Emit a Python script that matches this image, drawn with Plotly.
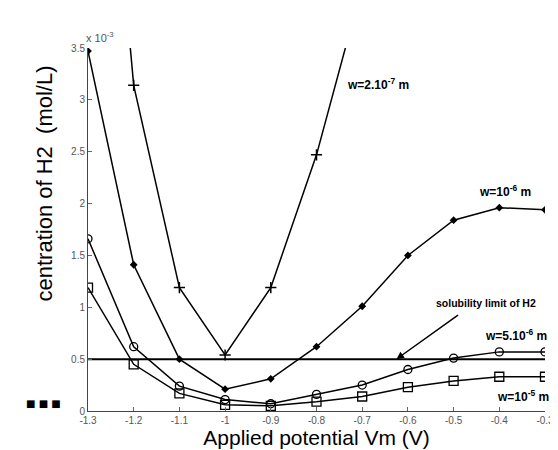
import plotly.graph_objects as go

potential = [-1.3, -1.2, -1.1, -1.0, -0.9, -0.8, -0.7, -0.6, -0.5, -0.4, -0.3]

# concentrations in units of 1e-3 mol/L
w_2e7 = [8.0, 3.14, 1.19, 0.54, 1.19, 2.47, 4.1]          # + markers (first 7 points)
w_1e6 = [3.47, 1.41, 0.50, 0.21, 0.31, 0.62, 1.01, 1.50, 1.84, 1.96, 1.94]  # filled dots
w_5e6 = [1.66, 0.62, 0.24, 0.11, 0.07, 0.16, 0.25, 0.40, 0.51, 0.57, 0.57]  # open circles
w_1e5 = [1.19, 0.45, 0.17, 0.06, 0.05, 0.09, 0.14, 0.23, 0.29, 0.33, 0.33]  # open squares
solubility_x = [-1.3, -0.3]
solubility_y = [0.5, 0.5]

x_ticks = [-1.3, -1.2, -1.1, -1.0, -0.9, -0.8, -0.7, -0.6, -0.5, -0.4, -0.3]
x_ticklabels = ["-1.3", "-1.2", "-1.1", "-1", "-0.9", "-0.8", "-0.7", "-0.6", "-0.5", "-0.4", "-0.3"]
y_ticks = [0, 0.5, 1, 1.5, 2, 2.5, 3, 3.5]
y_ticklabels = ["0", "0.5", "1", "1.5", "2", "2.5", "3", "3.5"]

fig = go.Figure()

line = dict(color="black", width=1.5)
fig.add_trace(go.Scatter(x=potential[:len(w_2e7)], y=w_2e7, mode="lines+markers", line=line,
                         marker=dict(symbol="cross-thin", size=8, line=dict(color="black", width=1.5)),
                         cliponaxis=True))
fig.add_trace(go.Scatter(x=potential, y=w_1e6, mode="lines+markers", line=line,
                         marker=dict(symbol="diamond", size=6, color="black"), cliponaxis=True))
fig.add_trace(go.Scatter(x=potential, y=w_5e6, mode="lines+markers", line=line,
                         marker=dict(symbol="circle-open", size=8, color="black", line=dict(width=1.3)),
                         cliponaxis=True))
fig.add_trace(go.Scatter(x=potential, y=w_1e5, mode="lines+markers", line=line,
                         marker=dict(symbol="square-open", size=9, color="black", line=dict(width=1.3)),
                         cliponaxis=True))
fig.add_trace(go.Scatter(x=solubility_x, y=solubility_y, mode="lines",
                         line=dict(color="black", width=2)))

lab_font = dict(family="Liberation Sans, Arial", size=12, color="black")
sol_font = dict(family="Liberation Sans, Arial", size=10.5, color="black")
W, H = 558, 450
ml, mr, mt, mb = 80, 16, 40, 47
pw, ph = W - ml - mr, H - mt - mb
def px(xp, yp):
    return (xp - ml) / pw, (H - mb - yp) / ph

xa, ya = px(76, 29)
xt, yt = px(36, 175)
xs, ys = px(35, 395)
annotations = [
    dict(x=-0.737, y=3.15, xref="x", yref="y", text="<b>w=2.10<sup>-7</sup> m</b>", showarrow=False,
         xanchor="left", yanchor="middle", font=lab_font),
    dict(x=-0.449, y=2.12, xref="x", yref="y", text="<b>w=10<sup>-6</sup> m</b>", showarrow=False,
         xanchor="left", yanchor="middle", font=lab_font),
    dict(x=-0.435, y=0.73, xref="x", yref="y", text="<b>w=5.10<sup>-6</sup> m</b>", showarrow=False,
         xanchor="left", yanchor="middle", font=lab_font),
    dict(x=-0.41, y=0.145, xref="x", yref="y", text="<b>w=10<sup>-5</sup> m</b>", showarrow=False,
         xanchor="left", yanchor="middle", font=lab_font),
    dict(x=-0.43, y=1.04, xref="x", yref="y", text="<b>solubility limit of H2</b>", showarrow=False,
         xanchor="center", yanchor="middle", font=sol_font),
    dict(x=-0.625, y=0.5, xref="x", yref="y", text="", showarrow=True, ax=63, ay=-45,
         arrowhead=2, arrowsize=1, arrowwidth=1.5, arrowcolor="black"),
    dict(x=xa, y=ya, xref="paper", yref="paper", text="x 10<sup>-3</sup>", showarrow=False,
         xanchor="left", yanchor="middle",
         font=dict(family="Liberation Sans, Arial", size=11, color="#555")),
    dict(x=xt, y=yt, xref="paper", yref="paper", text="centration of H2  (mol/L)", showarrow=False,
         xanchor="center", yanchor="middle",
         textangle=-90, font=dict(family="Liberation Sans, Arial", size=22, color="black")),
    dict(x=xs, y=ys, xref="paper", yref="paper", text="■ ■ ■", showarrow=False,
         xanchor="center", yanchor="middle",
         font=dict(family="DejaVu Sans", size=10, color="black")),
]

fig.update_layout(
    width=W, height=H, margin=dict(l=ml, r=mr, t=mt, b=mb),
    plot_bgcolor="white", paper_bgcolor="white", showlegend=False,
    annotations=annotations,
    font=dict(family="Liberation Sans, Arial"),
)
fig.update_xaxes(range=[-1.3, -0.3], tickvals=x_ticks, ticktext=x_ticklabels,
                 showline=True, linecolor="#444", linewidth=1, showgrid=False, zeroline=False,
                 ticks="inside", ticklen=4, tickcolor="#666",
                 tickfont=dict(size=10, color="#555"),
                 title=dict(text="Applied potential Vm (V)", font=dict(size=21, color="black"), standoff=2))
fig.update_yaxes(range=[0, 3.5], tickvals=y_ticks, ticktext=y_ticklabels,
                 showline=True, linecolor="#444", linewidth=1, showgrid=False, zeroline=False,
                 ticks="inside", ticklen=4, tickcolor="#666",
                 tickfont=dict(size=10, color="#555"))

fig.write_html("out.html")
